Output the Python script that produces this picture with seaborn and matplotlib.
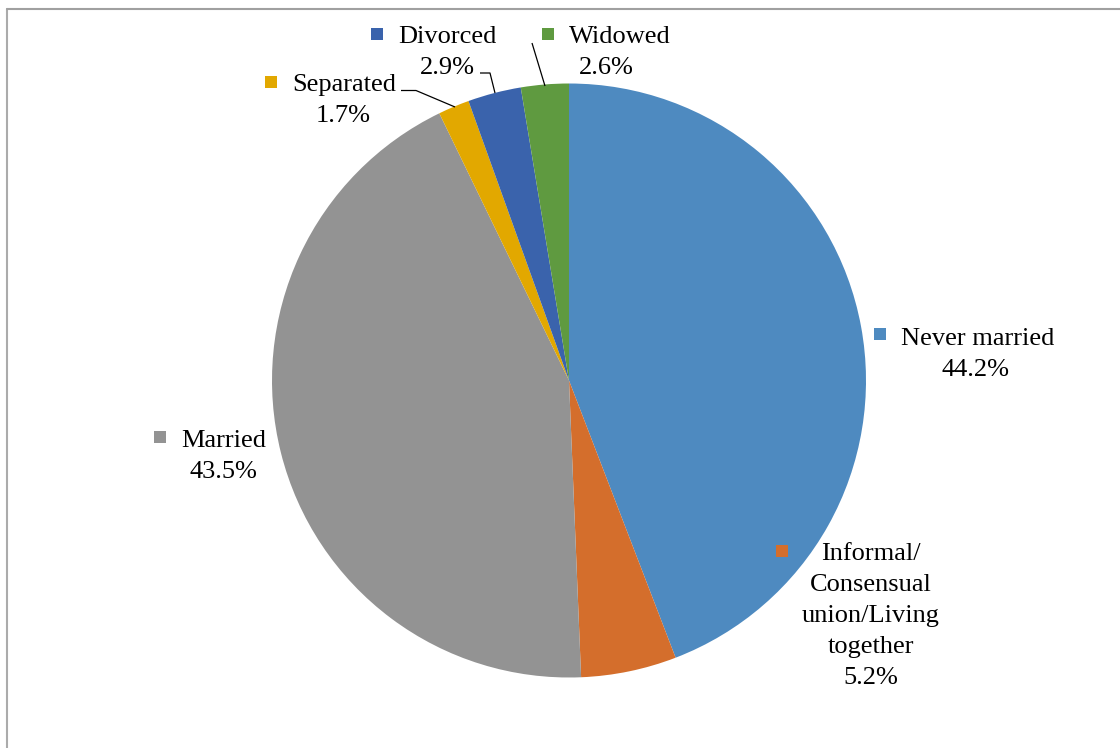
import matplotlib
matplotlib.use("Agg")
import matplotlib.pyplot as plt
from matplotlib.patches import Rectangle
from matplotlib.lines import Line2D
import seaborn as sns

# Marital status distribution (percent)
categories = ["Never married", "Informal/\nConsensual\nunion/Living\ntogether",
              "Married", "Separated", "Divorced", "Widowed"]
shares = [44.2, 5.2, 43.5, 1.7, 2.9, 2.6]
colors = ["#4E8AC0", "#D46E2C", "#939393", "#E2A800", "#3A63AC", "#5F9A40"]

sns.set_theme(style="white")
plt.rcParams["font.family"] = ["Liberation Serif", "DejaVu Serif"]

W, H = 1120, 748
fig = plt.figure(figsize=(W / 100, H / 100), dpi=100)
ax = fig.add_axes([0, 0, 1, 1])


def px(x, y):
    """Convert top-left pixel coordinates to data coordinates."""
    return x, H - y


cx, cy = px(569, 380.5)
ax.pie(shares, colors=colors, startangle=90, counterclock=False,
       center=(cx, cy), radius=297,
       wedgeprops=dict(linewidth=0))
ax.set_xlim(0, W)
ax.set_ylim(0, H)
ax.set_aspect("equal")
ax.axis("off")

# label layout: (text x, first line y, key square x, key square y)
label_layout = [
    (976, 339, 880, 334),
    (871, 554, 782, 551),
    (223, 441, 160, 437),
    (343, 85, 271, 82),
    (447, 37, 377, 34),
    (606, 37, 548, 34),
]
fs = 19
line_h = 31
for cat, val, col, (tx, ty, sx, sy) in zip(categories, shares, colors, label_layout):
    lines = cat.split("\n")
    first = lines[0]
    rest = lines[1:] + [f"{val:.1f}%"]
    # colour key next to the first line
    key = 12
    ax.add_patch(Rectangle(px(sx - key / 2, sy + key / 2), key, key,
                           facecolor=col, edgecolor="none", clip_on=False))
    x0 = sx + key / 2 + 15
    if cat.startswith("Informal"):
        ax.text(*px(tx, ty), first, fontsize=fs, ha="center", va="center", color="black")
    else:
        ax.text(*px(x0, ty), first, fontsize=fs, ha="left", va="center", color="black")
    for i, ln in enumerate(rest, start=1):
        ax.text(*px(tx, ty + i * line_h), ln, fontsize=fs, ha="center",
                va="center", color="black")

# leader lines for the small slices
leaders = [
    [(401, 90.5), (416, 90.5), (455, 107)],
    [(480, 73), (490, 73), (495, 93)],
    [(532, 43), (545, 86)],
]
for pts in leaders:
    xs = [p[0] for p in pts]
    ys = [H - p[1] for p in pts]
    ax.plot(xs, ys, color="black", lw=0.9, solid_capstyle="butt", clip_on=False)

# chart-area frame (left and top edges)
fig.add_artist(Line2D([7 / W, 7 / W], [0, 1 - 9 / H], color="#ABABAB", lw=1.5,
                      transform=fig.transFigure))
fig.add_artist(Line2D([7 / W, 1], [1 - 9 / H, 1 - 9 / H], color="#A0A0A0", lw=1.5,
                      transform=fig.transFigure))

fig.savefig("out.png", dpi=100)
